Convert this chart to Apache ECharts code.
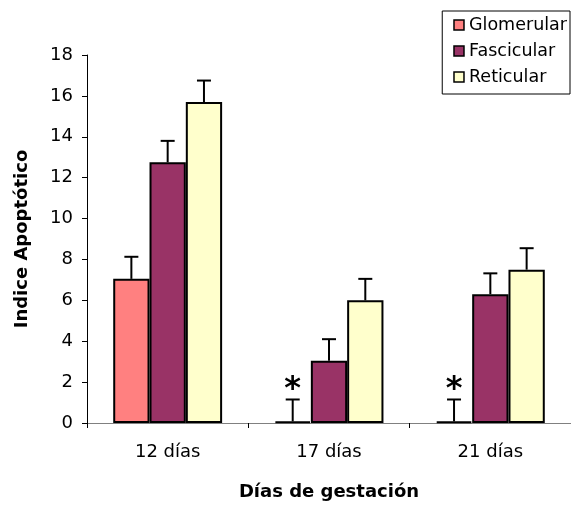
<!DOCTYPE html>
<html><head><meta charset="utf-8">
<script src="https://cdn.jsdelivr.net/npm/echarts@6/dist/echarts.min.js"></script>
<style>html,body{margin:0;padding:0;background:#fff}#c{width:571px;height:506px}</style>
</head><body><div id="c"></div>
<script>
const categories = ['12 días', '17 días', '21 días'];
const seriesNames = ['Glomerular', 'Fascicular', 'Reticular'];
const glomerular = [7.05, 0.08, 0.08];
const fascicular = [12.75, 3.05, 6.3];
const reticular = [15.7, 6.0, 7.5];
const glomerularErr = [1.08, 1.07, 1.07];
const fascicularErr = [1.05, 1.05, 1.02];
const reticularErr = [1.05, 1.05, 1.05];
const significant = [[false, true, true], [false, false, false], [false, false, false]];
const yTicks = [0, 2, 4, 6, 8, 10, 12, 14, 16, 18];

const colors = ['#FF8080', '#993366', '#FFFFCC'];
const values = [glomerular, fascicular, reticular];
const errs = [glomerularErr, fascicularErr, reticularErr];
const GAP = 0.325;
const FONT = '"DejaVu Sans", sans-serif';

const errData = [];
values.forEach((vals, s) => vals.forEach((v, i) => errData.push([i, v, v + errs[s][i], s, significant[s][i] ? 1 : 0])));

const chart = echarts.init(document.getElementById('c'));
chart.setOption({
  animation: false,
  textStyle: { fontFamily: FONT },
  legend: {
    orient: 'vertical', right: 1, top: 11,
    data: seriesNames,
    borderColor: '#000', borderWidth: 1,
    padding: [5, 3, 8, 11],
    itemWidth: 10, itemHeight: 10, itemGap: 8,
    icon: 'rect',
    itemStyle: { borderColor: '#000', borderWidth: 1.5 },
    textStyle: { fontSize: 17.5, color: '#000', fontFamily: FONT }
  },
  grid: { left: 87, top: 55, bottom: 83, right: -5, containLabel: false },
  xAxis: {
    type: 'category', data: categories,
    name: 'Días de gestación', nameLocation: 'middle', nameGap: 60,
    nameTextStyle: { fontSize: 18, fontWeight: 'bold', color: '#000', fontFamily: FONT },
    axisLine: { lineStyle: { color: '#808080', width: 1 } },
    axisTick: { show: true, length: 5, lineStyle: { color: '#000' }, alignWithLabel: false },
    axisLabel: { fontSize: 18, color: '#000', margin: 20 }
  },
  yAxis: {
    type: 'value', min: 0, max: 18, interval: 2,
    name: 'Indice Apoptótico', nameLocation: 'middle', nameGap: 56,
    nameTextStyle: { fontSize: 18, fontWeight: 'bold', color: '#000', fontFamily: FONT },
    axisLine: { show: true, lineStyle: { color: '#000', width: 1 } },
    axisTick: { show: true, length: 5, lineStyle: { color: '#000' } },
    axisLabel: { fontSize: 18, color: '#000', margin: 14, formatter: v => yTicks.includes(v) ? String(v) : '' },
    splitLine: { show: false }
  },
  series: values.map((vals, s) => ({
    name: seriesNames[s], type: 'bar', data: vals,
    barGap: '0%', barCategoryGap: (GAP * 100) + '%',
    itemStyle: { color: colors[s], borderColor: '#000', borderWidth: 2 },
    z: 2
  })).concat([{
    type: 'custom', data: errData, z: 5, silent: true,
    renderItem: function (params, api) {
      const i = api.value(0), top = api.value(2), s = api.value(3), sig = api.value(4);
      const band = api.size([1, 0])[0];
      const bw = band * (1 - GAP) / 3;
      const base = api.coord([i, api.value(1)]);
      const hi = api.coord([i, top]);
      const x = base[0] + (s - 1) * bw;
      const cap = 7;
      const ls = { stroke: '#000', lineWidth: 2 };
      const children = [
        { type: 'line', shape: { x1: x, y1: base[1], x2: x, y2: hi[1] }, style: ls },
        { type: 'line', shape: { x1: x - cap, y1: hi[1], x2: x + cap, y2: hi[1] }, style: ls }
      ];
      if (sig) children.push({ type: 'text', style: { text: '*', x: x, y: hi[1] + 6, align: 'center', verticalAlign: 'bottom', fontSize: 32, fontWeight: 'bold', fill: '#000', fontFamily: FONT } });
      return { type: 'group', children: children };
    }
  }])
});
</script></body></html>
